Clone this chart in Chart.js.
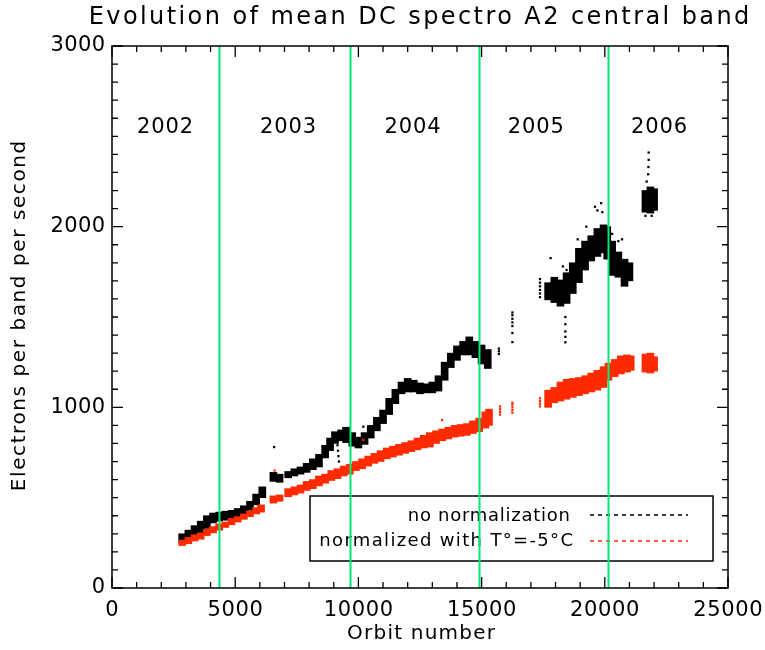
<!DOCTYPE html>
<html>
<head>
<meta charset="utf-8">
<title>Evolution of mean DC spectro A2 central band</title>
<script src="https://cdn.jsdelivr.net/npm/chart.js@4.4.1/dist/chart.umd.min.js"></script>
<style>
  html, body { margin: 0; padding: 0; background: #fff; }
  #wrap { width: 765px; height: 650px; }
</style>
</head>
<body>
<div id="wrap"><canvas id="dcChart" width="765" height="650"></canvas></div>
<script>
// Axis ticks and labels
const xMajorTicks = [0, 5000, 10000, 15000, 20000, 25000];
const yMajorTicks = [0, 1000, 2000, 3000];
const xMinorStep = 1000;
const yMinorStep = 100;

// Year boundaries (orbit number) and year labels
const yearBoundaries = [4350, 9650, 14900, 20150];
const yearLabels = ['2002', '2003', '2004', '2005', '2006'];
const yearLabelOrbits = [2150, 7150, 12200, 17200, 22200];
const yearLabelLevel = 2550;

const legendLabels = ['no normalization', 'normalized with T\u00b0=-5\u00b0C'];

// No normalization: dense band, min / max per orbit bin
const blackOrbits = [2850, 3100, 3350, 3600, 3850, 4100, 4350, 4600, 4850, 5100, 5350, 5600, 5850, 6100,
  6550, 6800,
  7150, 7400, 7650, 7900, 8150, 8400, 8650, 8850, 9050, 9300, 9500, 9750, 10000, 10250, 10500, 10750,
  11000, 11250, 11500, 11750, 12000, 12250, 12500, 12750, 13000, 13250, 13500, 13750, 14000, 14250,
  14500, 14750, 15000, 15250,
  17700, 17950, 18200, 18450, 18700, 18950, 19200, 19450, 19700, 19950, 20100, 20300, 20550, 20800, 21000,
  21650, 21850, 22000];
const blackLow = [250, 265, 285, 305, 330, 360, 370, 375, 380, 390, 405, 430, 460, 500,
  590, 585,
  610, 620, 630, 640, 655, 670, 720, 760, 800, 815, 805, 785, 775, 795, 830, 870,
  910, 960, 1020, 1075, 1085, 1085, 1075, 1080, 1080, 1090, 1150, 1220, 1260, 1290,
  1290, 1275, 1240, 1215,
  1595, 1580, 1560, 1575, 1630, 1690, 1760, 1810, 1835, 1855, 1820, 1730, 1720, 1670, 1700,
  2080, 2075, 2090];
const blackHigh = [300, 320, 345, 370, 400, 415, 420, 425, 430, 440, 455, 480, 520, 560,
  640, 630,
  645, 660, 670, 690, 715, 740, 790, 830, 865, 875, 890, 860, 835, 860, 900, 945,
  985, 1050, 1100, 1140, 1160, 1150, 1135, 1130, 1140, 1175, 1250, 1300, 1340, 1365,
  1390, 1365, 1345, 1320,
  1690, 1720, 1705, 1745, 1800, 1880, 1920, 1950, 1990, 2010, 2000, 1920, 1860, 1820, 1800,
  2200, 2220, 2210];

// No normalization: isolated points and short strokes
const blackDotOrbits = [6580, 9150, 9170, 9190, 9210, 10200,
  15700, 15700, 15700, 16250, 16250, 16250, 16250, 16250, 16250, 16250,
  17370, 17370, 17370, 17370, 17370, 17370,
  17800, 18300, 18450, 18400, 18400, 18400, 18400, 18400, 18900, 19250, 19600, 19700, 19850, 19900,
  20300, 20550, 20700, 21780, 21780, 21770, 21760, 21700, 21650, 21900];
const blackDotValues = [780, 790, 760, 730, 700, 893,
  1295, 1310, 1325, 1450, 1470, 1490, 1510, 1525, 1411, 1361,
  1610, 1630, 1650, 1670, 1690, 1710,
  1826, 1780, 1760, 1500, 1460, 1420, 1390, 1360, 1930, 2000, 2110, 2090, 2130, 2080,
  1960, 1920, 1930, 2410, 2370, 2330, 2290, 2250, 2060, 2060];

// Normalized with T = -5 C: dense band
const redOrbits = [2850, 3100, 3350, 3600, 3850, 4100, 4350, 4600, 4850, 5100, 5350, 5600, 5850, 6050,
  6550, 6800,
  7150, 7400, 7650, 7900, 8150, 8400, 8650, 8900, 9150, 9400, 9650, 9900, 10150, 10400, 10650, 10900,
  11150, 11400, 11650, 11900, 12150, 12400, 12650, 12900, 13150, 13400, 13650, 13900, 14150, 14400,
  14650, 14900, 15150, 15300,
  17700, 17950, 18200, 18450, 18700, 18950, 19200, 19450, 19700, 19950, 20150, 20400, 20650, 20900, 21050,
  21650, 21850, 22000];
const redLow = [235, 245, 260, 270, 290, 305, 320, 335, 350, 365, 380, 395, 410, 420,
  470, 480,
  505, 515, 525, 540, 550, 565, 580, 595, 605, 620, 630, 650, 660, 675, 690, 700,
  715, 725, 735, 745, 755, 765, 775, 780, 800, 815, 825, 835, 840, 845,
  855, 865, 885, 900,
  1000, 1025, 1035, 1045, 1055, 1065, 1075, 1085, 1095, 1110, 1150, 1170, 1185, 1195, 1205,
  1195, 1190, 1200];
const redHigh = [265, 280, 295, 305, 325, 340, 355, 365, 385, 395, 410, 425, 445, 460,
  510, 515,
  550, 560, 570, 590, 600, 620, 630, 650, 660, 675, 685, 700, 715, 730, 745, 760,
  775, 785, 795, 805, 815, 830, 845, 860, 870, 880, 890, 900, 905, 910,
  925, 940, 975, 990,
  1095, 1110, 1140, 1155, 1160, 1165, 1175, 1190, 1205, 1225, 1245, 1265, 1285, 1290, 1285,
  1295, 1300, 1280];

// Normalized: isolated points and short strokes
const redDotOrbits = [6600, 10200, 13400,
  15750, 15750, 15750, 15750, 16250, 16250, 16250, 16250, 16250,
  17370, 17370, 17370, 17370];
const redDotValues = [650, 820, 930,
  960, 975, 990, 1005, 970, 985, 1000, 1015, 1025,
  1005, 1020, 1035, 1050];

const BLACK = '#000000';
const RED = '#ff2a00';
const GREEN = 'rgb(0, 232, 120)';
const FONT = '"DejaVu Sans", sans-serif';

function bandData(orbits, low, high) {
    return orbits.map((o, i) => ({ x: o, y: [low[i], high[i]] }));
}

function dotData(orbits, values) {
    return orbits.map((o, i) => ({ x: o, y: values[i] }));
}

// draw text stretched to a given width (IDL fonts are wide)
function fitText(ctx, text, x, y, size, width, align) {
    ctx.font = size + 'px ' + FONT;
    ctx.letterSpacing = '0px';
    const w = ctx.measureText(text).width;
    const sp = (width - w) / text.length;
    ctx.letterSpacing = sp + 'px';
    ctx.textAlign = align;
    ctx.textBaseline = 'middle';
    let dx = 0;
    if (align === 'right') dx = sp;
    if (align === 'center') dx = sp / 2;
    ctx.fillText(text, x + dx, y);
    ctx.letterSpacing = '0px';
}

const overlay = {
    id: 'overlay',
    afterDatasetsDraw(chart) {
        const ctx = chart.ctx;
        const a = chart.chartArea;
        const xs = chart.scales.x;
        const ys = chart.scales.y;
        ctx.save();
        ctx.fillStyle = BLACK;
        ctx.strokeStyle = BLACK;

        // legend box
        ctx.lineWidth = 1.5;
        ctx.strokeRect(310, 496, 403, 65);
        fitText(ctx, legendLabels[0], 570, 516, 18, 163, 'right');
        fitText(ctx, legendLabels[1], 573, 541, 18, 255, 'right');
        ctx.setLineDash([4, 4]);
        ctx.lineWidth = 1.3;
        ctx.beginPath();
        ctx.moveTo(590, 515);
        ctx.lineTo(688, 515);
        ctx.stroke();
        ctx.strokeStyle = RED;
        ctx.beginPath();
        ctx.moveTo(590, 541);
        ctx.lineTo(688, 541);
        ctx.stroke();
        ctx.setLineDash([]);

        // year boundaries
        ctx.strokeStyle = GREEN;
        ctx.lineWidth = 2;
        yearBoundaries.forEach(o => {
            const px = Math.round(xs.getPixelForValue(o)) + 0.5;
            ctx.beginPath();
            ctx.moveTo(px, a.top);
            ctx.lineTo(px, a.bottom);
            ctx.stroke();
        });

        // year labels
        ctx.fillStyle = BLACK;
        const yl = ys.getPixelForValue(yearLabelLevel);
        yearLabels.forEach((t, i) => {
            fitText(ctx, t, xs.getPixelForValue(yearLabelOrbits[i]), yl, 21, 57, 'center');
        });

        // frame
        ctx.strokeStyle = BLACK;
        ctx.lineWidth = 1.5;
        ctx.strokeRect(a.left, a.top, a.right - a.left, a.bottom - a.top);

        // inward ticks on all four sides
        ctx.lineWidth = 1.3;
        ctx.beginPath();
        for (let v = 0; v <= 25000; v += xMinorStep) {
            const len = xMajorTicks.includes(v) ? 11 : 6;
            const px = xs.getPixelForValue(v);
            ctx.moveTo(px, a.bottom);
            ctx.lineTo(px, a.bottom - len);
            ctx.moveTo(px, a.top);
            ctx.lineTo(px, a.top + len);
        }
        for (let v = 0; v <= 3000; v += yMinorStep) {
            const len = yMajorTicks.includes(v) ? 11 : 6;
            const py = ys.getPixelForValue(v);
            ctx.moveTo(a.left, py);
            ctx.lineTo(a.left + len, py);
            ctx.moveTo(a.right, py);
            ctx.lineTo(a.right - len, py);
        }
        ctx.stroke();

        // tick labels
        xMajorTicks.forEach(v => {
            const t = String(v);
            fitText(ctx, t, xs.getPixelForValue(v), 611, 21, t.length * 14, 'center');
        });
        yMajorTicks.forEach(v => {
            const t = String(v);
            fitText(ctx, t, 105, ys.getPixelForValue(v), 21, t.length * 13.7, 'right');
        });

        // axis titles
        fitText(ctx, 'Orbit number', 421, 634, 20, 149, 'center');
        ctx.save();
        ctx.translate(20, 316);
        ctx.rotate(-Math.PI / 2);
        fitText(ctx, 'Electrons per band per second', 0, 0, 20, 352, 'center');
        ctx.restore();

        // title
        fitText(ctx, 'Evolution of mean DC spectro A2 central band', 419, 18, 24, 663, 'center');

        ctx.restore();
    }
};

const dcCtx = document.getElementById('dcChart').getContext('2d');
const dcChart = new Chart(dcCtx, {
    type: 'scatter',
    data: {
        datasets: [
            {
                type: 'bar',
                label: legendLabels[1],
                data: bandData(redOrbits, redLow, redHigh),
                backgroundColor: RED,
                borderWidth: 0,
                barThickness: 7,
                grouped: false
            },
            {
                label: legendLabels[1] + ' (isolated)',
                data: dotData(redDotOrbits, redDotValues),
                backgroundColor: RED,
                borderWidth: 0,
                pointStyle: 'rect',
                pointRadius: 1.6
            },
            {
                type: 'bar',
                label: legendLabels[0],
                data: bandData(blackOrbits, blackLow, blackHigh),
                backgroundColor: BLACK,
                borderWidth: 0,
                barThickness: 7,
                grouped: false
            },
            {
                label: legendLabels[0] + ' (isolated)',
                data: dotData(blackDotOrbits, blackDotValues),
                backgroundColor: BLACK,
                borderWidth: 0,
                pointStyle: 'rect',
                pointRadius: 1.6
            }
        ]
    },
    options: {
        responsive: false,
        animation: false,
        layout: {
            padding: { left: 112, right: 37, top: 46, bottom: 62 }
        },
        plugins: {
            legend: { display: false },
            tooltip: { enabled: false },
            title: { display: false }
        },
        scales: {
            x: {
                type: 'linear',
                display: false,
                min: 0,
                max: 25000,
                offset: false
            },
            y: {
                type: 'linear',
                display: false,
                min: 0,
                max: 3000
            }
        }
    },
    plugins: [overlay]
});
</script>
</body>
</html>
